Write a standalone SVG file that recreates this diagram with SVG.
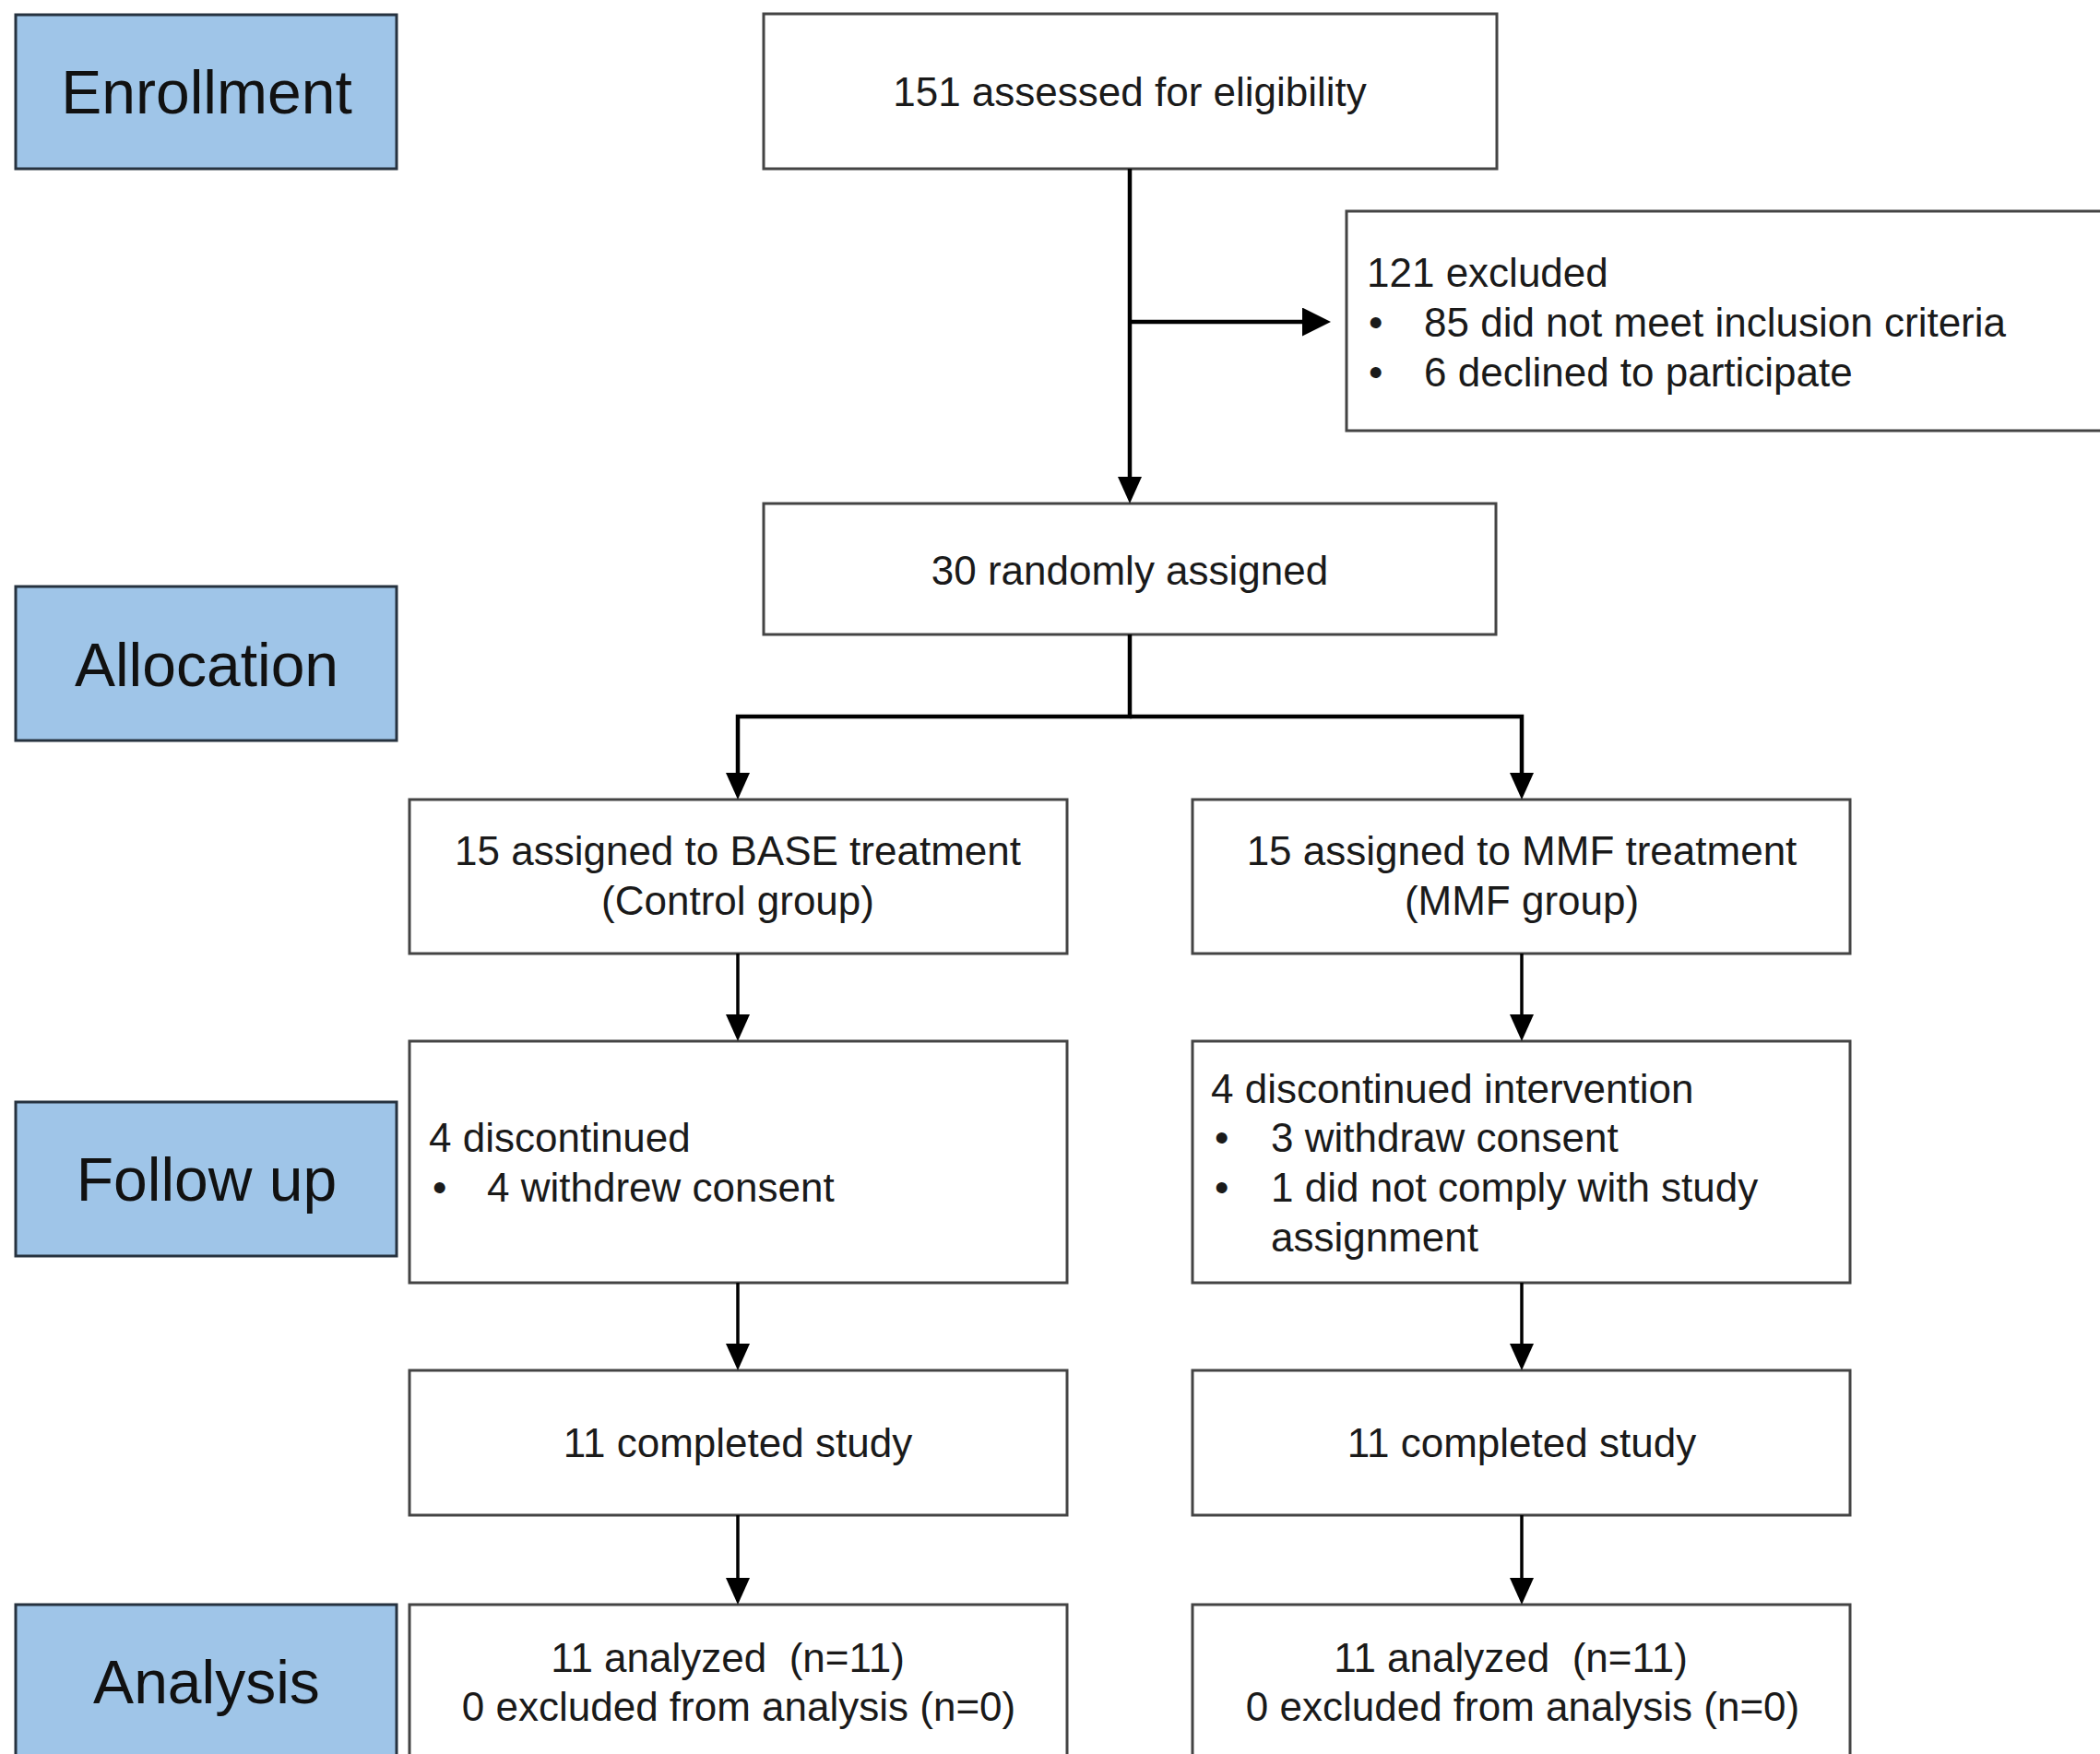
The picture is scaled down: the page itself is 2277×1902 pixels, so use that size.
<svg xmlns="http://www.w3.org/2000/svg" width="2277" height="1902" viewBox="0 0 2277 1902">
<style>
  .lbl rect{fill:#9fc5e8;stroke:#26323f;stroke-width:3}
  .lbl text{font-family:"Liberation Sans",Arial,sans-serif;font-size:66px;fill:#111;text-anchor:middle}
  .box rect{fill:#fff;stroke:#444;stroke-width:3}
  .box text{font-family:"Liberation Sans",Arial,sans-serif;font-size:44px;fill:#1a1a1a}
  .c{text-anchor:middle}
  .conn path{fill:none;stroke:#000;stroke-width:3.5}
  .conn .thick{stroke-width:4.5}
</style>
<defs>
  <marker id="ah" markerUnits="userSpaceOnUse" viewBox="0 0 29 26" markerWidth="29" markerHeight="26" refX="19" refY="13" orient="auto">
    <path d="M0,0 L29,13 L0,26 z" fill="#000"/>
  </marker>
  <marker id="ahL" markerUnits="userSpaceOnUse" viewBox="0 0 31 31" markerWidth="31" markerHeight="31" refX="21" refY="15.5" orient="auto">
    <path d="M0,0 L31,15.5 L0,31 z" fill="#000"/>
  </marker>
</defs>
<rect width="2277" height="1902" fill="#fff"/>

<g id="enrollment" class="lbl"><rect x="17" y="16" width="413" height="167"/><text x="224" y="123">Enrollment</text></g>
<g id="allocation" class="lbl"><rect x="17" y="636" width="413" height="167"/><text x="224" y="744">Allocation</text></g>
<g id="followup" class="lbl"><rect x="17" y="1195" width="413" height="167"/><text x="224" y="1302">Follow up</text></g>
<g id="analysis" class="lbl"><rect x="17" y="1740" width="413" height="175"/><text x="224" y="1847">Analysis</text></g>

<g id="assessed" class="box"><rect x="828" y="15" width="795" height="168"/><text class="c" x="1225" y="115">151 assessed for eligibility</text></g>
<g id="excluded" class="box"><rect x="1460" y="229" width="840" height="238"/>
  <text x="1482" y="311">121 excluded</text>
  <text x="1484" y="365">•</text><text x="1544" y="365">85 did not meet inclusion criteria</text>
  <text x="1484" y="419">•</text><text x="1544" y="419">6 declined to participate</text>
</g>
<g id="randomized" class="box"><rect x="828" y="546" width="794" height="142"/><text class="c" x="1225" y="634">30 randomly assigned</text></g>

<g id="base" class="box"><rect x="444" y="867" width="713" height="167"/>
  <text class="c" x="800" y="938">15 assigned to BASE treatment</text>
  <text class="c" x="800" y="992">(Control group)</text>
</g>
<g id="mmf" class="box"><rect x="1293" y="867" width="713" height="167"/>
  <text class="c" x="1650" y="938">15 assigned to MMF treatment</text>
  <text class="c" x="1650" y="992">(MMF group)</text>
</g>

<g id="followL" class="box"><rect x="444" y="1129" width="713" height="262"/>
  <text x="465" y="1249">4 discontinued</text>
  <text x="469" y="1303">•</text><text x="528" y="1303">4 withdrew consent</text>
</g>
<g id="followR" class="box"><rect x="1293" y="1129" width="713" height="262"/>
  <text x="1313" y="1196">4 discontinued intervention</text>
  <text x="1317" y="1249">•</text><text x="1378" y="1249">3 withdraw consent</text>
  <text x="1317" y="1303">•</text><text x="1378" y="1303">1 did not comply with study</text>
  <text x="1378" y="1357">assignment</text>
</g>

<g id="completedL" class="box"><rect x="444" y="1486" width="713" height="157"/><text class="c" x="800" y="1580">11 completed study</text></g>
<g id="completedR" class="box"><rect x="1293" y="1486" width="713" height="157"/><text class="c" x="1650" y="1580">11 completed study</text></g>

<g id="analyzedL" class="box"><rect x="444" y="1740" width="713" height="175"/>
  <text class="c" x="789" y="1813" xml:space="preserve">11 analyzed  (n=11)</text>
  <text class="c" x="801" y="1866">0 excluded from analysis (n=0)</text>
</g>
<g id="analyzedR" class="box"><rect x="1293" y="1740" width="713" height="175"/>
  <text class="c" x="1638" y="1813" xml:space="preserve">11 analyzed  (n=11)</text>
  <text class="c" x="1651" y="1866">0 excluded from analysis (n=0)</text>
</g>

<g id="connectors" class="conn">
  <path class="thick" d="M1225,183 V536" marker-end="url(#ah)"/>
  <path class="thick" d="M1225,349 H1433" marker-end="url(#ahL)"/>
  <path class="thick" d="M1225,688 V777 H800 V857" marker-end="url(#ah)"/>
  <path class="thick" d="M1225,777 H1650 V857" marker-end="url(#ah)"/>
  <path d="M800,1034 V1119" marker-end="url(#ah)"/>
  <path d="M1650,1034 V1119" marker-end="url(#ah)"/>
  <path d="M800,1391 V1476" marker-end="url(#ah)"/>
  <path d="M1650,1391 V1476" marker-end="url(#ah)"/>
  <path d="M800,1643 V1730" marker-end="url(#ah)"/>
  <path d="M1650,1643 V1730" marker-end="url(#ah)"/>
</g>
</svg>
